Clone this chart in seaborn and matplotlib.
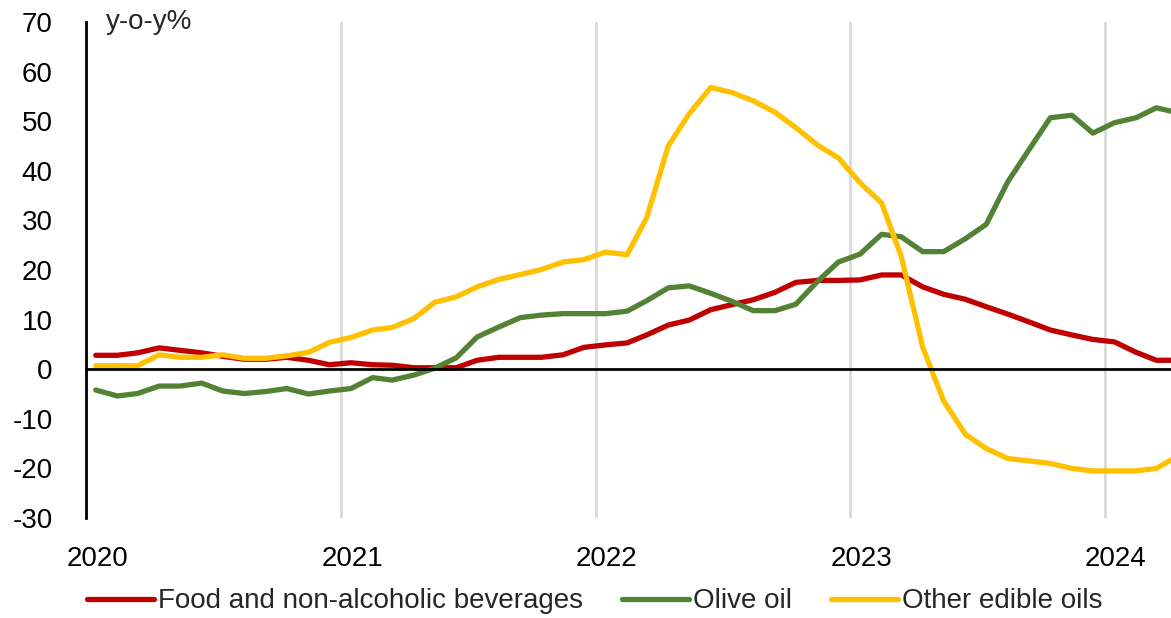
import seaborn as sns
import matplotlib.pyplot as plt
import matplotlib.dates as mdates
import matplotlib.ticker as mticker
import pandas as pd

# Monthly y-o-y inflation, Jan 2020 - Apr 2024
months = pd.date_range("2020-01-01", periods=52, freq="MS") + pd.Timedelta(days=14)

food = [2.8, 2.8, 3.3, 4.3, 3.8, 3.3, 2.6, 2.0, 2.0, 2.4, 1.8, 0.9,
        1.3, 0.9, 0.8, 0.3, 0.3, 0.3, 1.8, 2.4, 2.4, 2.4, 2.9, 4.4,
        4.9, 5.3, 6.9, 8.9, 9.9, 12.0, 13.0, 14.0, 15.5, 17.5, 17.9, 17.9,
        18.0, 19.0, 19.0, 16.6, 15.1, 14.1, 12.6, 11.1, 9.5, 7.9, 6.9, 6.0,
        5.5, 3.4, 1.8, 1.8]
olive = [-4.2, -5.4, -4.9, -3.4, -3.4, -2.8, -4.4, -4.9, -4.5, -3.9, -5.0, -4.4,
         -3.9, -1.7, -2.2, -1.2, 0.2, 2.3, 6.5, 8.5, 10.4, 10.9, 11.2, 11.2,
         11.2, 11.7, 13.8, 16.4, 16.8, 15.3, 13.7, 11.8, 11.8, 13.1, 17.7, 21.6,
         23.2, 27.2, 26.7, 23.7, 23.7, 26.3, 29.2, 37.8, 44.4, 50.7, 51.2, 47.6,
         49.7, 50.7, 52.7, 51.7]
other = [0.7, 0.7, 0.7, 2.9, 2.4, 2.4, 2.9, 2.2, 2.2, 2.7, 3.4, 5.4,
         6.4, 7.9, 8.4, 10.2, 13.5, 14.6, 16.6, 18.1, 19.1, 20.1, 21.6, 22.1,
         23.6, 23.1, 30.5, 45.0, 51.5, 56.8, 55.8, 54.1, 51.8, 48.7, 45.2, 42.6,
         37.6, 33.5, 22.8, 4.4, -6.4, -13.1, -16.0, -18.0, -18.5, -19.0, -20.0, -20.5,
         -20.5, -20.5, -20.0, -17.5]

series_names = ["Food and non-alcoholic beverages", "Olive oil", "Other edible oils"]
colors = ["#C00000", "#548235", "#FFC000"]

df = pd.DataFrame({"Month": months, series_names[0]: food,
                   series_names[1]: olive, series_names[2]: other})
df = df.melt(id_vars="Month", var_name="Series", value_name="Value")

sns.set_style("white")
plt.rcParams["font.family"] = ["Liberation Sans", "DejaVu Sans"]
plt.rcParams["axes.unicode_minus"] = False

fig = plt.figure(figsize=(11.71, 6.18), dpi=100)
ax = fig.add_axes([86 / 1171, 1 - 518 / 618, 1085 / 1171, 496 / 618])

sns.lineplot(data=df, x="Month", y="Value", hue="Series", hue_order=series_names,
             palette=colors, linewidth=3.8, ax=ax, legend=False, zorder=3)

ax.set_ylim(-30, 70)
ax.set_yticks(range(-30, 71, 10))
ax.set_xlim(pd.Timestamp("2020-01-01"), pd.Timestamp("2024-04-05"))
# year boundaries carry ticks and gridlines, labels sit mid-January
ax.xaxis.set_major_locator(mdates.YearLocator())
ax.xaxis.set_major_formatter(mticker.NullFormatter())
ax.xaxis.set_minor_locator(mdates.YearLocator(month=1, day=17))
ax.xaxis.set_minor_formatter(mdates.DateFormatter("%Y"))
ax.set_xlabel("")
ax.set_ylabel("")

ax.grid(axis="x", which="major", color="#D9D9D9", linewidth=2, zorder=0)
ax.grid(axis="y", visible=False)

for side in ["top", "right"]:
    ax.spines[side].set_visible(False)
ax.spines["left"].set_linewidth(2)
ax.spines["left"].set_color("black")
ax.spines["bottom"].set_position(("data", 0))
ax.spines["bottom"].set_linewidth(2)
ax.spines["bottom"].set_color("black")
ax.spines["bottom"].set_zorder(4)

ax.tick_params(axis="y", direction="in", length=6, width=2, labelsize=20, pad=24,
               colors="black")
ax.tick_params(axis="x", which="major", direction="in", length=6, width=2)
ax.tick_params(axis="x", which="minor", length=0, labelsize=20, pad=127,
               labelcolor="black")

ax.text(0.018, 70, "y-o-y%", transform=ax.get_yaxis_transform(),
        fontsize=20, va="center", ha="left")

handles = [plt.Line2D([], [], color=c, linewidth=3.8) for c in colors]
fig.legend(handles, series_names, loc="center", bbox_to_anchor=(0.508, 0.027),
           ncol=3, frameon=False, fontsize=20, handlelength=2.4,
           handletextpad=0.15, columnspacing=1.4)

fig.savefig("out.png", dpi=100)
